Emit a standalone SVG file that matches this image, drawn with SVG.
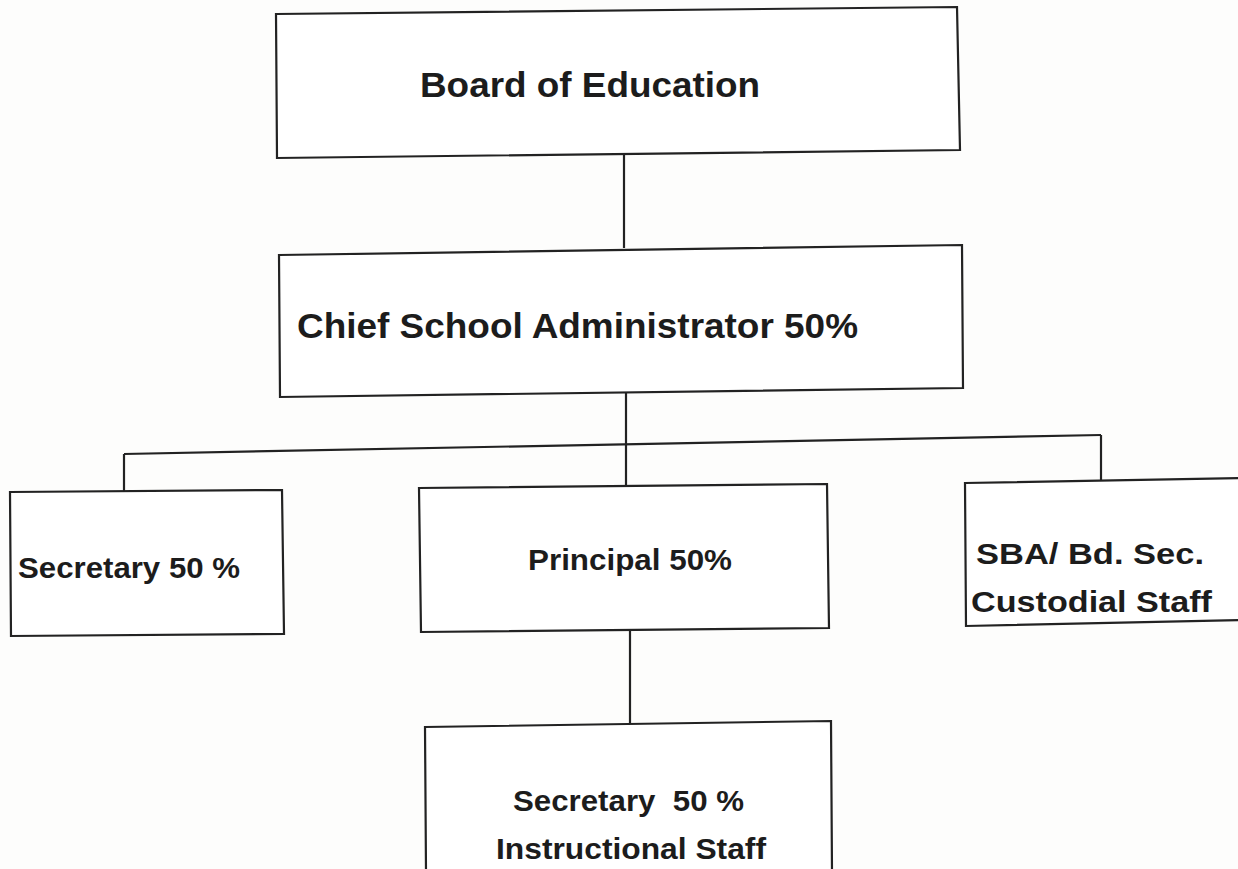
<svg xmlns="http://www.w3.org/2000/svg" width="1238" height="869" viewBox="0 0 1238 869">
<style>
.box{fill:#ffffff;stroke:#222;stroke-width:2.2;stroke-linejoin:miter}
.ln{fill:none;stroke:#222;stroke-width:2.2}
.t{font-family:"Liberation Sans",Arial,sans-serif;font-weight:bold;fill:#1c1c1c}
</style>
<rect width="1238" height="869" fill="#fdfdfc"/>
<g id="connectors">
<path class="ln" d="M624 155 L624 248"/>
<path class="ln" d="M626 392 L626 487"/>
<path class="ln" d="M124 454 L1101 435"/>
<path class="ln" d="M124 454 L124 491"/>
<path class="ln" d="M1101 435 L1101 480"/>
<path class="ln" d="M630 631 L630 724"/>
</g>
<g id="board">
<path class="box" d="M276 14 L957 7 L960 150 L277 158 Z"/>
<text class="t" x="420" y="97" font-size="35" textLength="340" lengthAdjust="spacingAndGlyphs">Board of Education</text>
</g>
<g id="chief">
<path class="box" d="M279 255 L962 245 L963 388 L280 397 Z"/>
<text class="t" x="297" y="338" font-size="35" textLength="561" lengthAdjust="spacingAndGlyphs">Chief School Administrator 50%</text>
</g>
<g id="secretary">
<path class="box" d="M10 492 L282 490 L284 634 L11 636 Z"/>
<text class="t" x="18" y="578" font-size="30" textLength="222" lengthAdjust="spacingAndGlyphs">Secretary 50 %</text>
</g>
<g id="principal">
<path class="box" d="M419 488 L827 484 L829 628 L421 632 Z"/>
<text class="t" x="528" y="570" font-size="29" textLength="204" lengthAdjust="spacingAndGlyphs">Principal 50%</text>
</g>
<g id="sba">
<path class="box" d="M965 483 L1240 478 L1240 620 L966 626 Z"/>
<text class="t" x="976" y="564" font-size="29" textLength="228" lengthAdjust="spacingAndGlyphs">SBA/ Bd. Sec.</text>
<text class="t" x="971" y="612" font-size="29" textLength="241" lengthAdjust="spacingAndGlyphs">Custodial Staff</text>
</g>
<g id="secretary-instructional">
<path class="box" d="M425 727 L831 721 L832 872 L426 872 Z"/>
<text class="t" x="513" y="811" font-size="29" textLength="231" xml:space="preserve" lengthAdjust="spacingAndGlyphs">Secretary  50 %</text>
<text class="t" x="496" y="859" font-size="29" textLength="270" lengthAdjust="spacingAndGlyphs">Instructional Staff</text>
</g>
</svg>
